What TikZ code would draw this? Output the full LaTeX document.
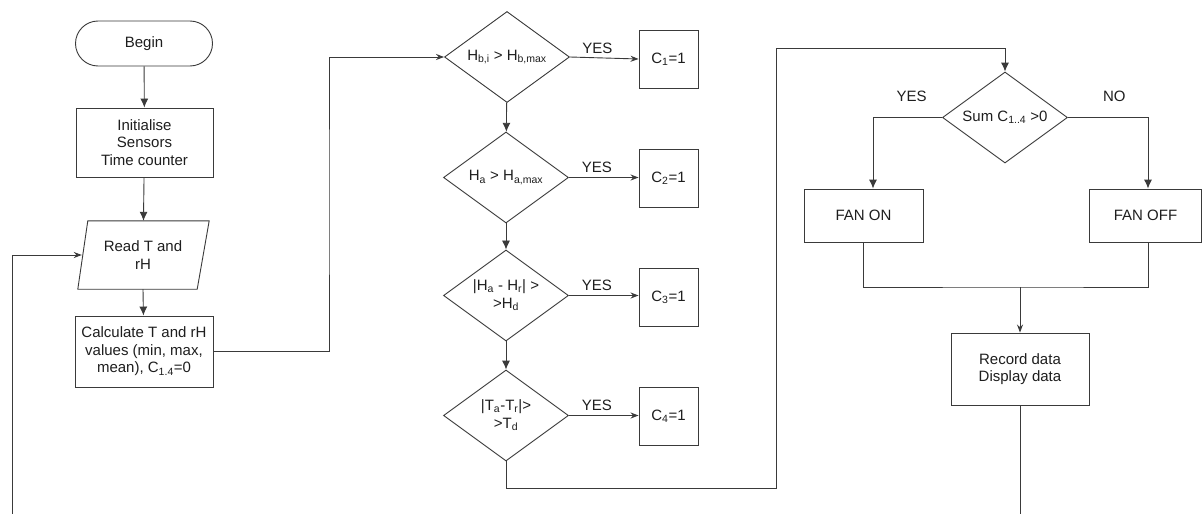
\documentclass[tikz,border=0pt]{standalone}
\usepackage{fontspec}
\setmainfont{Liberation Sans}
\usetikzlibrary{shapes.geometric,shapes.misc,arrows.meta}
\definecolor{ln}{HTML}{3A3A3A}
\definecolor{tx}{HTML}{1E1E1E}
\tikzset{
  base/.style={draw=ln, line width=0.9pt, text=tx, inner sep=0pt, align=center, font=\fontsize{15}{17.5}\selectfont},
  box/.style={base, rectangle},
  term/.style={base, rounded rectangle, minimum width=137, minimum height=45},
  dia/.style={base, diamond, aspect=1.4, minimum width=125, minimum height=91},
  io/.style={inner sep=0pt, align=center, text=tx, font=\fontsize{15}{17.5}\selectfont, minimum width=120, minimum height=68},
  lbl/.style={text=tx, inner sep=0pt, font=\fontsize{15}{17.5}\selectfont},
  conn/.style={draw=ln, line width=0.9pt},
  arr/.style={conn, -{Latex[length=9,width=8]}},
  harr/.style={conn, -{Stealth[length=8,width=6]}},
}
\begin{document}
\begin{tikzpicture}[x=1pt,y=-1pt]
\useasboundingbox (0,0) rectangle (1203,514);
\fill[white] (0,0) rectangle (1203,514);
% left column
\node[term] (begin) at (144,43.5) {Begin};
\node[box, minimum width=137, minimum height=69] (init) at (144.5,142.5) {Initialise\\Sensors\\Time counter};
\node[io] (read) at (143,255) {Read T and\\rH};
\draw[conn] ([xshift=5]read.north west) -- ([xshift=6]read.north east) -- ([xshift=-6]read.south east) -- ([xshift=-5]read.south west) -- cycle;
\node[box, minimum width=138, minimum height=71] (calc) at (144,351.5) {Calculate T and rH\\values (min, max,\\mean), C\textsubscript{1.4}=0};
% diamonds column
\node[dia] (d1) at (507,57) {H\textsubscript{b,i} > H\textsubscript{b,max}};
\node[dia] (d2) at (506,177.5) {H\textsubscript{a} > H\textsubscript{a,max}};
\node[dia] (d3) at (506,295.5) {|H\textsubscript{a} - H\textsubscript{r}| >\\>H\textsubscript{d}};
\node[dia] (d4) at (506,415.5) {|T\textsubscript{a}-T\textsubscript{r}|>\\>T\textsubscript{d}};
\node[box, minimum width=59, minimum height=58] (c1) at (668.5,59) {C\textsubscript{1}=1};
\node[box, minimum width=59, minimum height=58] (c2) at (668.5,178.5) {C\textsubscript{2}=1};
\node[box, minimum width=59, minimum height=58] (c3) at (668.5,297.5) {C\textsubscript{3}=1};
\node[box, minimum width=59, minimum height=58] (c4) at (668.5,416.5) {C\textsubscript{4}=1};
% right part
\node[dia] (d5) at (1005,117.5) {Sum C\textsubscript{1..4} >0};
\node[box, minimum width=119, minimum height=53] (fanon) at (863.5,215.5) {FAN ON};
\node[box, minimum width=112, minimum height=53] (fanoff) at (1145.5,215.5) {FAN OFF};
\node[box, minimum width=138, minimum height=72] (rec) at (1020,369) {Record data\\Display data};
% coordinates
\coordinate (lb) at (12,514);
\coordinate (k1) at (329,200);
\coordinate (k2) at (776,488);
\coordinate (k3) at (776,48);
\coordinate (j) at (1020,287);
\coordinate (rb) at (1020,514);
% connectors
\draw[arr] (begin) -- (init);
\draw[arr] (init) -- (read);
\draw[arr] (read.south) -- (calc);
\draw[harr] (lb) |- ([xshift=-1]read.west);
\draw[harr] (calc.east) -| (k1) |- (d1.west);
\draw[arr] (d1) -- (d2);
\draw[arr] (d2) -- (d3);
\draw[arr] (d3) -- (d4);
\draw[harr] (d1.east) -- node[lbl, above=4pt, pos=0.4] {YES} (c1.west);
\draw[harr] (d2.east) -- node[lbl, above=4pt, pos=0.4] {YES} (c2.west |- d2.east);
\draw[harr] (d3.east) -- node[lbl, above=4pt, pos=0.4] {YES} (c3.west |- d3.east);
\draw[harr] (d4.east) -- node[lbl, above=4pt, pos=0.4] {YES} (c4.west |- d4.east);
\draw[arr] (d4.south) |- (k2) -- (k3) -| (d5.north);
\draw[arr] (d5.west) -| node[lbl, pos=0.22, above=15pt] {YES} ([xshift=9.5]fanon.north);
\draw[arr] (d5.east) -| node[lbl, pos=0.29, above=15pt] {NO} ([xshift=2.5]fanoff.north);
\draw[conn] (fanon.south) |- (j) -| ([xshift=2.5]fanoff.south);
\draw[harr] (j) -- (rec.north);
\draw[conn] (rec.south) -- (rb);
\end{tikzpicture}
\end{document}
